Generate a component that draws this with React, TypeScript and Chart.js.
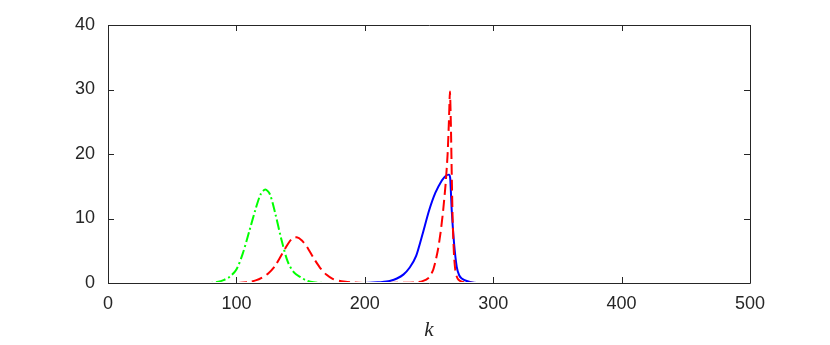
import React, { useEffect, useRef } from "react";
import { Chart, registerables } from "chart.js";

Chart.register(...registerables);

const xTicks = [0, 100, 200, 300, 400, 500];
const yTicks = [0, 10, 20, 30, 40];
const axisTitle = "k";

// blue solid series
const blueK = [0, 200, 210, 215, 220, 225, 230, 235, 240, 245, 250, 255, 260, 263, 265.5, 266.5, 267.7, 269.5, 271.6, 273.5, 275.5, 279.4, 285, 290, 500];
const blueV = [0, 0, 0.1, 0.2, 0.35, 0.7, 1.3, 2.4, 4.2, 7.6, 11.2, 14.0, 15.9, 16.6, 16.8, 16.3, 11.3, 6.2, 2.5, 1.2, 0.7, 0.3, 0.05, 0, 0];

// red dashed series
const redK = [0, 100, 110, 115, 120, 125, 130, 135, 140, 143, 147, 151, 155, 160, 165, 170, 175, 180, 185, 190, 200, 235, 240, 245, 250, 253, 255, 257, 259, 261, 263, 264.5, 265.5, 266.3, 267, 267.7, 268.4, 269.5, 270.5, 271.6, 273, 275.5, 280, 290, 500];
const redV = [0, 0, 0.15, 0.4, 0.85, 1.5, 2.6, 4.3, 6.0, 6.8, 7.1, 6.6, 5.6, 3.9, 2.4, 1.3, 0.65, 0.35, 0.2, 0.1, 0, 0.05, 0.1, 0.3, 0.85, 1.9, 3.3, 5.2, 7.8, 11.2, 15.5, 20, 25, 29.7, 25, 17, 10, 4.2, 2.0, 1.0, 0.5, 0.2, 0.05, 0, 0];

// green dash-dot series
const greenK = [0, 80, 85, 90, 95, 100, 105, 110, 115, 119, 122.5, 126, 130, 135, 140, 145, 150, 155, 160, 170, 500];
const greenV = [0, 0, 0.15, 0.45, 1.0, 2.1, 4.6, 8.0, 11.5, 13.8, 14.5, 13.8, 11.0, 6.8, 3.3, 1.6, 0.9, 0.35, 0.1, 0, 0];

const pts = (ks: number[], vs: number[]) => ks.map((k, i) => ({ x: k, y: vs[i] }));

const FRAME = "#262626";
const FONT = "'Liberation Sans', Arial, sans-serif";
const CLIP = { left: 5, right: 5, top: false, bottom: -1 } as any;

const framePlugin = {
  id: "frame",
  afterDatasetsDraw(chart: any) {
    const { ctx, chartArea: a, scales } = chart;
    const xs = scales.x;
    const ys = scales.y;
    ctx.save();
    ctx.strokeStyle = FRAME;
    ctx.lineWidth = 1;
    ctx.setLineDash([]);
    ctx.beginPath();
    ctx.rect(Math.round(a.left) + 0.5, Math.round(a.top) + 0.5, Math.round(a.right - a.left), Math.round(a.bottom - a.top));
    ctx.stroke();
    const tl = 6;
    ctx.beginPath();
    for (const t of xTicks) {
      const px = Math.round(xs.getPixelForValue(t)) + 0.5;
      ctx.moveTo(px, a.bottom);
      ctx.lineTo(px, a.bottom - tl);
      ctx.moveTo(px, a.top);
      ctx.lineTo(px, a.top + tl);
    }
    for (const t of yTicks) {
      const py = Math.round(ys.getPixelForValue(t)) + 0.5;
      ctx.moveTo(a.left, py);
      ctx.lineTo(a.left + tl, py);
      ctx.moveTo(a.right, py);
      ctx.lineTo(a.right - tl, py);
    }
    ctx.stroke();
    ctx.fillStyle = FRAME;
    ctx.font = "italic 21px 'Liberation Serif', 'DejaVu Serif', serif";
    ctx.textAlign = "center";
    ctx.textBaseline = "middle";
    ctx.fillText(axisTitle, (a.left + a.right) / 2, 330);
    ctx.restore();
  },
};

export default function App() {
  const ref = useRef<HTMLCanvasElement | null>(null);
  useEffect(() => {
    if (!ref.current) return;
    const chart = new Chart(ref.current, {
      type: "line",
      data: {
        datasets: [
          {
            data: pts(greenK, greenV),
            borderColor: "#00ff00",
            borderWidth: 2,
            borderDash: [10, 3, 2, 3],
            pointRadius: 0,
            tension: 0.3,
            clip: CLIP,
          },
          {
            data: pts(redK, redV),
            borderColor: "#ff0000",
            borderWidth: 2,
            borderDash: [11, 5],
            pointRadius: 0,
            tension: 0.2,
            clip: CLIP,
          },
          {
            data: pts(blueK, blueV),
            borderColor: "#0000ff",
            borderWidth: 2,
            pointRadius: 0,
            tension: 0.2,
            clip: CLIP,
          },
        ],
      },
      options: {
        responsive: false,
        animation: false,
        events: [],
        layout: { padding: { left: 0, top: 25, right: 80, bottom: 0 } },
        plugins: { legend: { display: false }, tooltip: { enabled: false } },
        scales: {
          x: {
            type: "linear",
            min: 0,
            max: 500,
            grid: { display: false, drawTicks: false },
            border: { display: false },
            afterBuildTicks: (s: any) => {
              s.ticks = xTicks.map((v) => ({ value: v }));
            },
            afterFit: (s: any) => {
              s.height = 62;
            },
            ticks: { color: FRAME, font: { family: FONT, size: 18 }, padding: 10, maxRotation: 0 },
          },
          y: {
            type: "linear",
            min: 0,
            max: 40,
            grid: { display: false, drawTicks: false },
            border: { display: false },
            afterBuildTicks: (s: any) => {
              s.ticks = yTicks.map((v) => ({ value: v }));
            },
            afterFit: (s: any) => {
              s.width = 108;
            },
            ticks: { color: FRAME, font: { family: FONT, size: 18 }, padding: 13 },
          },
        },
      },
      plugins: [framePlugin],
    });
    return () => chart.destroy();
  }, []);
  return (
    <div style={{ position: "absolute", left: 0, top: 0, width: 830, height: 345, background: "#fff" }}>
      <canvas ref={ref} width={830} height={345} />
    </div>
  );
}
